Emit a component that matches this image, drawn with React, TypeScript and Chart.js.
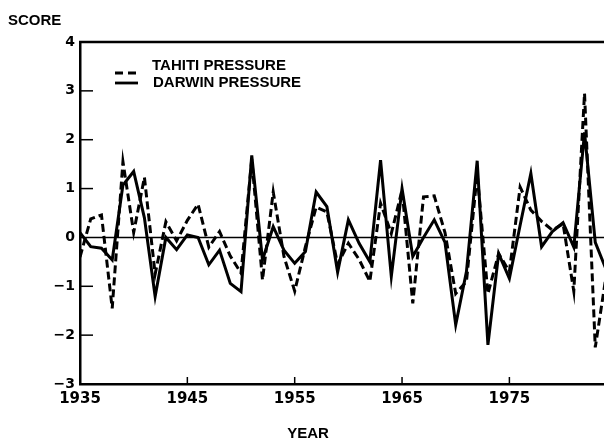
import React, { useEffect, useRef } from 'react';
import { Chart, registerables } from 'chart.js';

Chart.register(...registerables);

const years = [
  1935, 1936, 1937, 1938, 1939, 1940, 1941, 1942, 1943, 1944,
  1945, 1946, 1947, 1948, 1949, 1950, 1951, 1952, 1953, 1954,
  1955, 1956, 1957, 1958, 1959, 1960, 1961, 1962, 1963, 1964,
  1965, 1966, 1967, 1968, 1969, 1970, 1971, 1972, 1973, 1974,
  1975, 1976, 1977, 1978, 1979, 1980, 1981, 1982, 1983, 1984,
];

const tahitiPressure = [
  -0.4, 0.38, 0.46, -1.45, 1.55, 0.1, 1.23, -0.75, 0.32, -0.07,
  0.35, 0.68, -0.2, 0.12, -0.38, -0.73, 1.6, -0.87, 0.93, -0.39,
  -1.1, -0.19, 0.62, 0.52, -0.55, -0.12, -0.45, -0.9, 0.7, 0.08,
  0.97, -1.35, 0.83, 0.85, 0.1, -1.15, -0.9, 1.3, -1.15, -0.33,
  -0.7, 1.03, 0.56, 0.33, 0.15, 0.28, -1.1, 2.95, -2.25, -0.8,
];

const darwinPressure = [
  0.1, -0.19, -0.22, -0.46, 1.07, 1.35, 0.4, -1.21, 0.0, -0.25,
  0.05, 0.0, -0.56, -0.26, -0.94, -1.11, 1.68, -0.46, 0.22, -0.26,
  -0.53, -0.29, 0.93, 0.63, -0.71, 0.36, -0.12, -0.5, 1.58, -0.8,
  1.0, -0.39, 0.0, 0.36, -0.1, -1.79, -0.7, 1.57, -2.2, -0.33,
  -0.84, 0.25, 1.31, -0.19, 0.12, 0.3, -0.2, 2.15, -0.1, -0.65,
];

const seriesNames = ['TAHITI PRESSURE', 'DARWIN PRESSURE'];
const xTickYears = [1935, 1945, 1955, 1965, 1975];
const yTickValues = [-3, -2, -1, 0, 1, 2, 3, 4];
const yTickLabels = ['\u22123', '\u22122', '\u22121', '0', '1', '2', '3', '4'];
const yAxisTitle = 'SCORE';
const xAxisTitle = 'YEAR';

const TEXT_FONT = 'bold 15px "Liberation Sans", Arial, sans-serif';

const decorPlugin = {
  id: 'decor',
  beforeDatasetsDraw(chart: any) {
    const { ctx, chartArea, scales } = chart;
    const y0 = scales.y.getPixelForValue(0);
    ctx.save();
    ctx.strokeStyle = '#000';
    ctx.lineWidth = 1.5;
    ctx.beginPath();
    ctx.moveTo(chartArea.left, y0);
    ctx.lineTo(chartArea.right, y0);
    ctx.stroke();
    ctx.restore();
  },
  afterDraw(chart: any) {
    const { ctx, chartArea, scales } = chart;
    ctx.save();
    ctx.strokeStyle = '#000';
    ctx.fillStyle = '#000';
    // top frame line
    ctx.lineWidth = 2.5;
    ctx.beginPath();
    ctx.moveTo(chartArea.left - 1, chartArea.top);
    ctx.lineTo(chartArea.right, chartArea.top);
    ctx.stroke();
    // inner y ticks
    ctx.lineWidth = 1.5;
    yTickValues.forEach((v) => {
      if (v === -3 || v === 4 || v === 0) return;
      const py = scales.y.getPixelForValue(v);
      ctx.beginPath();
      ctx.moveTo(chartArea.left, py);
      ctx.lineTo(chartArea.left + 13, py);
      ctx.stroke();
    });
    // inner x ticks
    xTickYears.forEach((v) => {
      if (v === 1935) return;
      const px = scales.x.getPixelForValue(v);
      ctx.beginPath();
      ctx.moveTo(px, chartArea.bottom);
      ctx.lineTo(px, chartArea.bottom - 7);
      ctx.stroke();
    });
    // titles
    ctx.font = TEXT_FONT;
    ctx.textBaseline = 'middle';
    ctx.textAlign = 'left';
    ctx.fillText(yAxisTitle, 8, 21);
    ctx.textAlign = 'center';
    ctx.fillText(xAxisTitle, 308, 434);
    // legend
    ctx.textAlign = 'left';
    ctx.lineWidth = 2.8;
    ctx.setLineDash([8, 5]);
    ctx.beginPath();
    ctx.moveTo(115, 73);
    ctx.lineTo(138, 73);
    ctx.stroke();
    ctx.setLineDash([]);
    ctx.beginPath();
    ctx.moveTo(115, 83);
    ctx.lineTo(138, 83);
    ctx.stroke();
    ctx.fillText(seriesNames[0], 152, 66);
    ctx.fillText(seriesNames[1], 153, 83);
    ctx.restore();
  },
};

export default function App() {
  const canvasRef = useRef<HTMLCanvasElement | null>(null);

  useEffect(() => {
    if (!canvasRef.current) return;
    const chart = new Chart(canvasRef.current, {
      type: 'line',
      data: {
        datasets: [
          {
            label: seriesNames[0],
            data: years.map((x, i) => ({ x, y: tahitiPressure[i] })),
            borderColor: '#000',
            borderWidth: 3,
            borderDash: [8, 4],
            pointRadius: 0,
            tension: 0,
            fill: false,
          },
          {
            label: seriesNames[1],
            data: years.map((x, i) => ({ x, y: darwinPressure[i] })),
            borderColor: '#000',
            borderWidth: 3,
            pointRadius: 0,
            tension: 0,
            fill: false,
          },
        ],
      },
      options: {
        responsive: false,
        animation: false,
        devicePixelRatio: 1,
        layout: { padding: { top: 42, left: 0, right: 0, bottom: 0 } },
        plugins: {
          legend: { display: false },
          tooltip: { enabled: false },
          title: { display: false },
        },
        scales: {
          x: {
            type: 'linear',
            min: 1935,
            max: 1984,
            afterBuildTicks: (s: any) => {
              s.ticks = xTickYears.map((v) => ({ value: v }));
            },
            afterFit: (s: any) => {
              s.height = 58;
            },
            grid: { display: false, drawTicks: false },
            border: { display: true, color: '#000', width: 2.5 },
            ticks: {
              color: '#000',
              font: { family: '"DejaVu Sans", sans-serif', size: 15, weight: 'bold' },
              padding: 6,
              maxRotation: 0,
              autoSkip: false,
              callback: (v: any) => String(v),
            },
          },
          y: {
            type: 'linear',
            min: -3,
            max: 4,
            afterBuildTicks: (s: any) => {
              s.ticks = yTickValues.map((v) => ({ value: v }));
            },
            afterFit: (s: any) => {
              s.width = 80;
            },
            grid: { display: false, drawTicks: false },
            border: { display: true, color: '#000', width: 2.5 },
            ticks: {
              color: '#000',
              font: { family: '"DejaVu Sans", sans-serif', size: 14, weight: 'bold' },
              padding: 5,
              callback: (v: any) => {
                const i = yTickValues.indexOf(Number(v));
                return i >= 0 ? yTickLabels[i] : '';
              },
            },
          },
        },
      },
      plugins: [decorPlugin],
    } as any);
    return () => chart.destroy();
  }, []);

  return (
    <div
      style={{
        position: 'absolute',
        left: 0,
        top: 0,
        width: 604,
        height: 442,
        overflow: 'hidden',
        background: '#fff',
      }}
    >
      <canvas ref={canvasRef} width={606} height={442} style={{ display: 'block' }} />
    </div>
  );
}
